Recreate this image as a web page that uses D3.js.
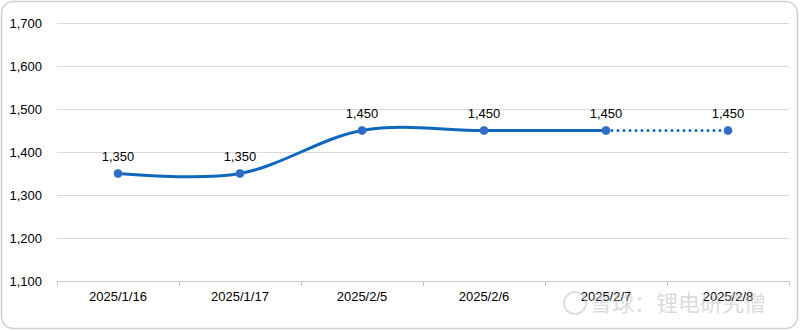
<!DOCTYPE html>
<html lang="en">
<head>
  <meta charset="UTF-8" />
  <script src="https://d3js.org/d3.v7.min.js"></script>
  <style>
    body { margin: 0; font-family: "Liberation Sans", Arial, sans-serif; background: #fff; }
  </style>
</head>
<body>
  <svg width="800" height="331"></svg>
  <script>
  const dates = ["2025/1/16", "2025/1/17", "2025/2/5", "2025/2/6", "2025/2/7", "2025/2/8"];
  const prices = [1350, 1350, 1450, 1450, 1450, 1450];
  const yTicks = [1100, 1200, 1300, 1400, 1500, 1600, 1700];

  const svg = d3.select("svg");
  const margin = { left: 57, right: 11, top: 23, bottom: 50 };
  const width = 800, height = 331;

  // frame
  svg.append("rect")
    .attr("x", 1.5).attr("y", 1.5)
    .attr("width", width - 4).attr("height", height - 4)
    .attr("rx", 12)
    .attr("fill", "#fff")
    .attr("stroke", "#d0d0d0")
    .attr("stroke-width", 1.5);

  const x = d3.scaleBand()
    .domain(dates)
    .range([margin.left, width - margin.right]);

  const y = d3.scaleLinear()
    .domain([1100, 1700])
    .range([height - margin.bottom, margin.top]);

  const fmt = d3.format(",");

  // gridlines
  svg.append("g")
    .selectAll("line")
    .data(yTicks.slice(1))
    .enter().append("line")
    .attr("x1", margin.left).attr("x2", width - margin.right)
    .attr("y1", d => y(d) + 0.5).attr("y2", d => y(d) + 0.5)
    .attr("stroke", "#d9d9d9").attr("stroke-width", 1);

  // y labels
  svg.append("g")
    .style("font-size", "13px")
    .selectAll("text")
    .data(yTicks)
    .enter().append("text")
    .attr("x", 42)
    .attr("y", d => y(d))
    .attr("dy", "0.35em")
    .attr("text-anchor", "end")
    .attr("fill", "#000")
    .text(d => fmt(d));

  // x axis
  const xAxis = svg.append("g");
  xAxis.append("line")
    .attr("x1", margin.left).attr("x2", width - margin.right)
    .attr("y1", y(1100) + 0.5).attr("y2", y(1100) + 0.5)
    .attr("stroke", "#c8c8c8");
  const bounds = dates.map(d => x(d)).concat([width - margin.right]);
  xAxis.selectAll("line.tick")
    .data(bounds)
    .enter().append("line")
    .attr("class", "tick")
    .attr("x1", d => d + 0.5).attr("x2", d => d + 0.5)
    .attr("y1", y(1100)).attr("y2", y(1100) + 5)
    .attr("stroke", "#c8c8c8");
  xAxis.selectAll("text")
    .data(dates)
    .enter().append("text")
    .attr("x", d => x(d) + x.bandwidth() / 2)
    .attr("y", y(1100) + 15)
    .attr("dy", "0.35em")
    .attr("text-anchor", "middle")
    .style("font-size", "13px")
    .text(d => d);

  const pts = dates.map((d, i) => [x(d) + x.bandwidth() / 2, y(prices[i])]);

  // smoothed solid part
  const solid = pts.slice(0, 5);
  svg.append("path")
    .attr("d", d3.line().curve(d3.curveCatmullRom.alpha(0))(solid))
    .attr("fill", "none")
    .attr("stroke", "#0f67bd")
    .attr("stroke-width", 3);

  // dotted projection
  svg.append("path")
    .attr("d", d3.line()(pts.slice(4)))
    .attr("fill", "none")
    .attr("stroke", "#0f67bd")
    .attr("stroke-width", 3)
    .attr("stroke-linecap", "round")
    .attr("stroke-dasharray", "0 6");

  // markers
  svg.append("g")
    .selectAll("circle")
    .data(pts)
    .enter().append("circle")
    .attr("cx", d => d[0]).attr("cy", d => d[1])
    .attr("r", 4)
    .attr("fill", "#2f6cc8")
    .attr("stroke", "#3a6fc0")
    .attr("stroke-width", 0.8);

  // data labels
  svg.append("g")
    .style("font-size", "13px")
    .selectAll("text")
    .data(pts)
    .enter().append("text")
    .attr("x", d => d[0])
    .attr("y", d => d[1] - 17)
    .attr("dy", "0.35em")
    .attr("text-anchor", "middle")
    .text((d, i) => fmt(prices[i]));

  // watermark
  const wm = svg.append("g").attr("opacity", 0.55);
  wm.append("circle")
    .attr("cx", 575).attr("cy", 303).attr("r", 11)
    .attr("fill", "none").attr("stroke", "#c8c8c8").attr("stroke-width", 2);
  wm.append("text")
    .attr("x", 590).attr("y", 303)
    .attr("dy", "0.35em")
    .attr("fill", "#c0c0c0")
    .style("font-family", "'Noto Sans CJK SC', sans-serif")
    .style("font-size", "22px")
    .text("雪球：锂电研究僧");
  </script>
</body>
</html>
